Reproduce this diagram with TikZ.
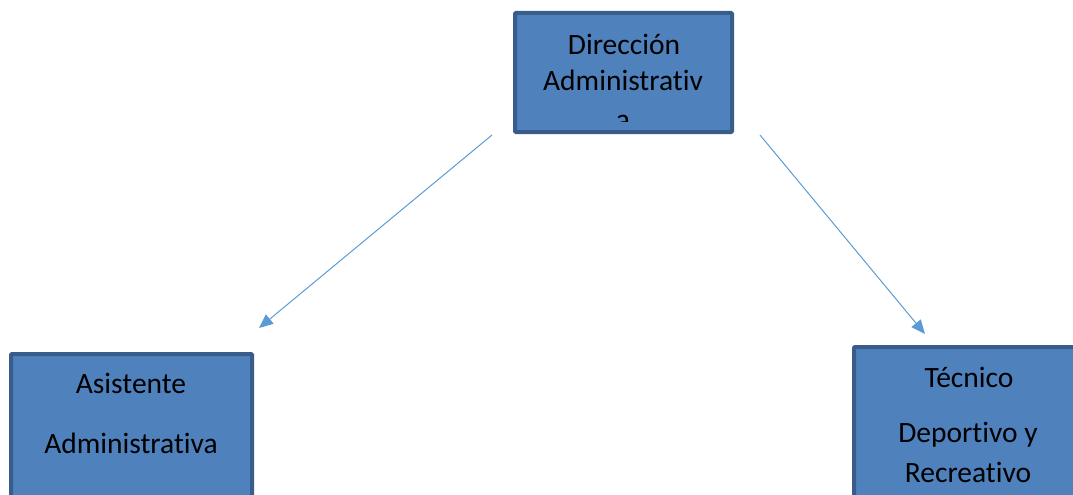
\documentclass[tikz,border=0pt]{standalone}
\usepackage{fontspec}
\setmainfont{Carlito}[Ligatures=NoCommon]
\usetikzlibrary{arrows.meta}
\definecolor{boxfill}{HTML}{4F81BD}
\definecolor{boxline}{HTML}{385D8A}
\definecolor{arrowline}{HTML}{5B9BD5}
\tikzset{
	unitbox/.style={draw=boxline, fill=boxfill, line width=4pt, rounded corners=1pt, inner sep=0pt},
	boxtext/.style={anchor=base, inner sep=0pt, font=\fontsize{29.5}{31}\selectfont},
	link/.style={draw=arrowline, line width=1pt, -{Triangle[length=14pt,width=12pt,fill=arrowline]}}
}
\begin{document}
\begin{tikzpicture}[x=1pt,y=-1pt]
				\useasboundingbox (0,0) rectangle (1073,495);
				\clip (0,0) rectangle (1073,495);
				\node[unitbox, minimum width=217pt, minimum height=119pt] (dir) at (623.5,72.5) {};
				\node[unitbox, minimum width=241pt, minimum height=180pt] (asis) at (131.5,444) {};
				\node[unitbox, minimum width=246pt, minimum height=180pt] (tec) at (977,437) {};
				\begin{scope}
					\clip (514,13) rectangle (733,121);
					\node[boxtext] (dir1) at (624,54.5) {Dirección};
					\node[boxtext] (dir2) at (623,90.5) {Administrativ};
					\node[boxtext] (dir3) at (623,129.5) {a};
				\end{scope}
				\node[boxtext] (asis1) at (131,393) {Asistente};
				\node[boxtext] (asis2) at (131,453) {Administrativa};
				\node[boxtext] (tec1) at (969,387) {Técnico};
				\node[boxtext] (tec2) at (968,442) {Deportivo y};
				\node[boxtext] (tec3) at (968,482) {Recreativo};
				\coordinate (d1) at (492,135);
				\coordinate (d2) at (760,135);
				\coordinate (a1) at (259,328);
				\coordinate (t1) at (925,334);
				\draw[link] (d1) -- (a1);
				\draw[link] (d2) -- (t1);
\end{tikzpicture}
\end{document}
